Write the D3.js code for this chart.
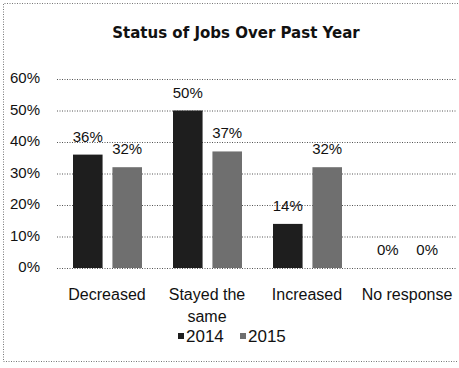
<!DOCTYPE html>
<html>
<head>
<meta charset="utf-8">
<script src="https://cdn.jsdelivr.net/npm/d3@7"></script>
<style>
  body { margin: 0; background: #fff; }
  svg { font-family: "Liberation Sans", Arial, sans-serif; }
  .grid line { stroke: #555; stroke-dasharray: 1 1.5; }
  .grid path { display: none; }
</style>
</head>
<body>
<div class="chart"></div>
<script>
const categories = ["Decreased", "Stayed the same", "Increased", "No response"];
const series = ["2014", "2015"];
const values2014 = [36, 50, 14, 0];
const values2015 = [32, 37, 32, 0];
const yTicks = [0, 10, 20, 30, 40, 50, 60];
const colors = ["#1e1e1e", "#6f6f6f"];

const width = 459, height = 368;
const plot = {left: 57, right: 457, top: 79, bottom: 268};

const svg = d3.select(".chart").append("svg")
  .attr("width", width)
  .attr("height", height);

// dotted frame (no right edge visible in the scan)
svg.append("path")
  .attr("d", "M458,3.5 H3.5 V361.5 H458")
  .attr("fill", "none")
  .attr("stroke", "#777")
  .attr("stroke-dasharray", "1 1.5");

svg.append("text")
  .attr("x", 236).attr("y", 38)
  .attr("text-anchor", "middle")
  .attr("font-family", "DejaVu Sans, sans-serif")
  .attr("font-size", 15)
  .attr("font-weight", "bold")
  .attr("fill", "#111")
  .text("Status of Jobs Over Past Year");

let x = d3.scaleBand()
  .domain(categories)
  .range([plot.left, plot.right]);

let xInner = d3.scaleBand()
  .domain(series)
  .range([16, 85])
  .paddingInner(0.25);

let y = d3.scaleLinear()
  .domain([0, 60])
  .range([plot.bottom, plot.top]);

// gridlines
let yGrid = d3.axisLeft(y)
  .tickValues(yTicks)
  .tickFormat("")
  .tickSize(-(plot.right - plot.left));

svg.append("g")
  .attr("class", "grid")
  .attr("transform", "translate(" + plot.left + ",0)")
  .call(yGrid);

// y labels
let yAxis = d3.axisLeft(y)
  .tickValues(yTicks)
  .tickFormat(d => d + "%")
  .tickSize(0)
  .tickPadding(0);

let yAxisGroup = svg.append("g")
  .attr("transform", "translate(40,-1)")
  .call(yAxis);
yAxisGroup.select(".domain").remove();
yAxisGroup.selectAll("text")
  .attr("font-size", 15)
  .attr("font-family", "Liberation Sans, Arial, sans-serif")
  .attr("fill", "#111");

const table = categories.map((c, i) => ({cat: c, vals: [values2014[i], values2015[i]]}));

table.forEach(function (row) {
  row.vals.forEach(function (v, j) {
    let bx = x(row.cat) + xInner(series[j]);
    svg.append("rect")
      .attr("x", bx)
      .attr("y", y(v))
      .attr("width", xInner.bandwidth())
      .attr("height", y(0) - y(v))
      .attr("fill", colors[j]);

    svg.append("text")
      .attr("x", bx + xInner.bandwidth() / 2)
      .attr("y", y(v) - 13)
      .attr("text-anchor", "middle")
      .attr("font-size", 15)
      .attr("fill", "#111")
      .text(v + "%");
  });
});

// category labels
let xAxis = d3.axisBottom(x).tickSize(0).tickPadding(0).tickFormat("");
svg.append("g")
  .attr("transform", "translate(0," + plot.bottom + ")")
  .call(xAxis)
  .select(".domain").remove();

const catLines = {"Stayed the same": ["Stayed the", "same"]};
categories.forEach(function (c) {
  let lines = catLines[c] || [c];
  let t = svg.append("text")
    .attr("x", x(c) + x.bandwidth() / 2)
    .attr("y", 300)
    .attr("text-anchor", "middle")
    .attr("font-size", 16)
    .attr("fill", "#111");
  lines.forEach(function (l, i) {
    t.append("tspan")
      .attr("x", x(c) + x.bandwidth() / 2)
      .attr("dy", i === 0 ? 0 : 22)
      .text(l);
  });
});

// legend
let legendX = [178, 240];
series.forEach(function (s, i) {
  svg.append("rect")
    .attr("x", legendX[i])
    .attr("y", 333)
    .attr("width", 6).attr("height", 6)
    .attr("fill", colors[i]);
  svg.append("text")
    .attr("x", legendX[i] + 8)
    .attr("y", 342)
    .attr("font-size", 17)
    .attr("fill", "#111")
    .text(s);
});
</script>
</body>
</html>
